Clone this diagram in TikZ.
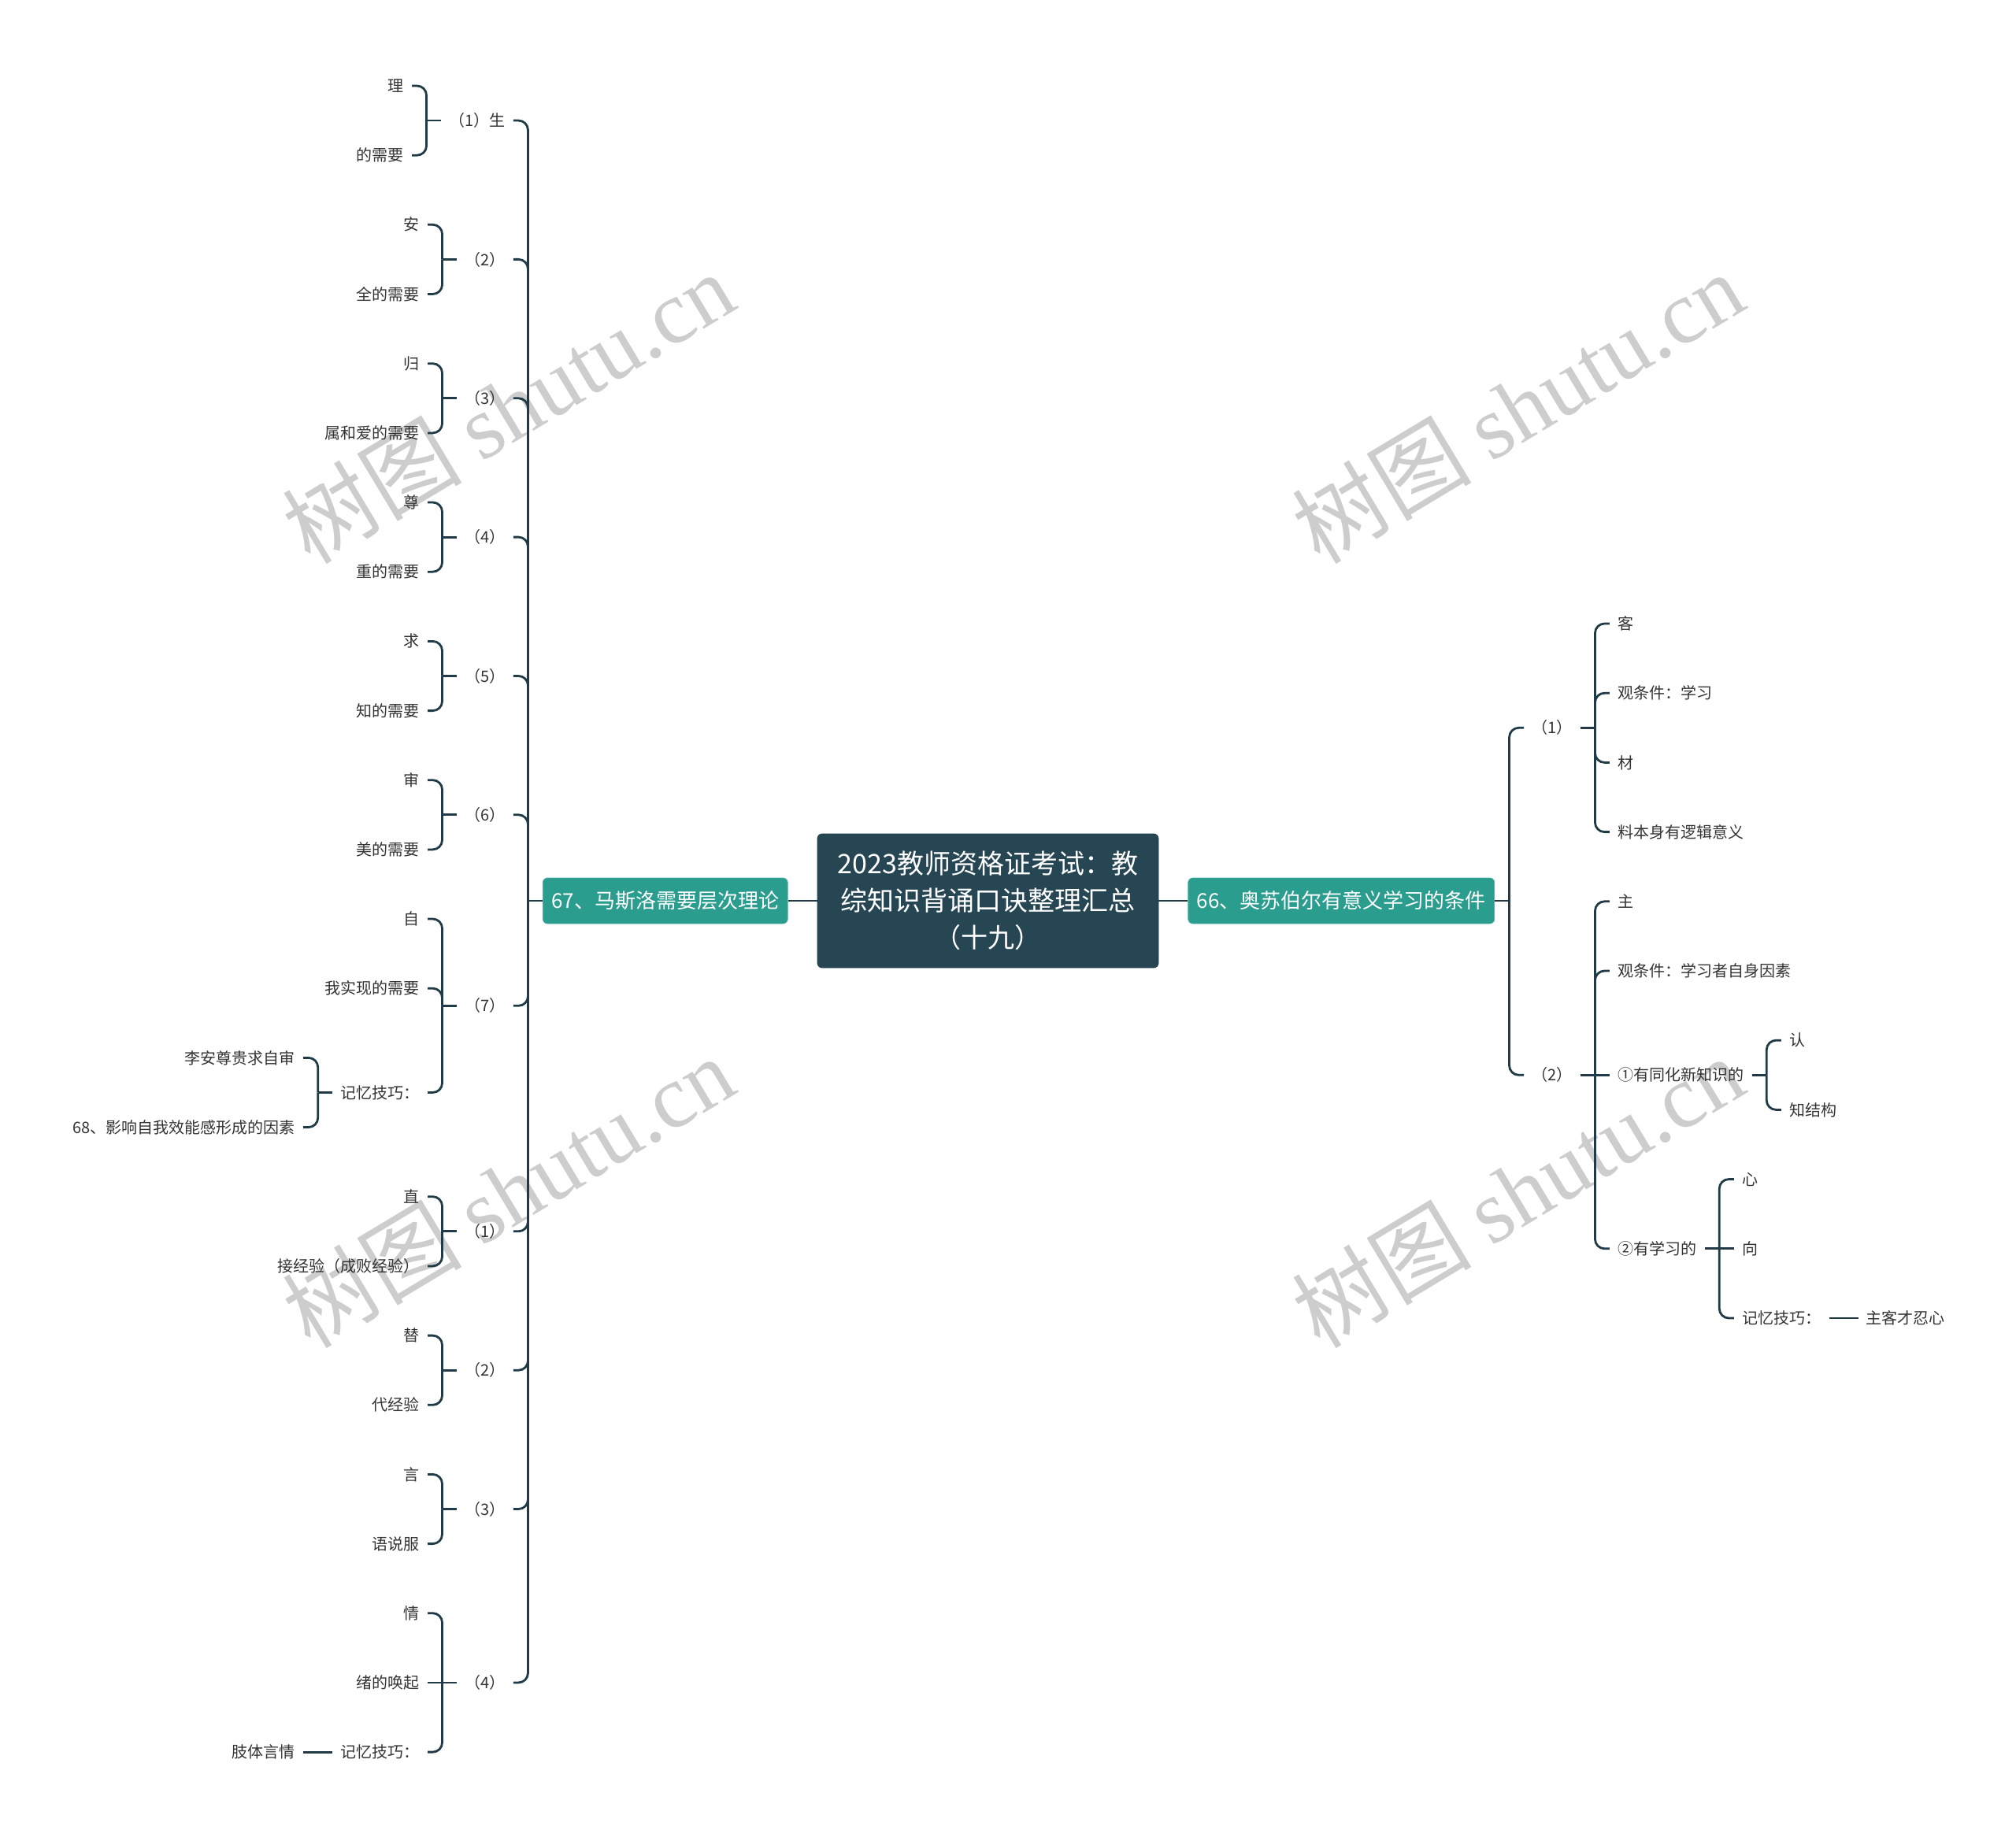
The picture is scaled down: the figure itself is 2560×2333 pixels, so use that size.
\documentclass[tikz,border=0pt]{standalone}
\usepackage{fontspec}
\newfontfamily\cjk{Noto Sans CJK SC}
\newfontfamily\wmserif{Liberation Serif}
\usepackage{tikz}
\usetikzlibrary{positioning,calc}
\definecolor{rootclr}{RGB}{38,70,83}
\definecolor{tealclr}{RGB}{42,157,143}
\definecolor{lineclr}{RGB}{32,58,70}
\definecolor{leafclr}{RGB}{51,51,51}
\definecolor{markclr}{RGB}{205,205,205}
\tikzset{
  topic/.style={rectangle,rounded corners=3pt,fill=rootclr,draw=rootclr!85!black,text=white,
                font=\cjk\fontsize{17}{23.5}\selectfont,align=center,
                minimum width=216.5pt,minimum height=85pt,inner sep=2pt},
  branch/.style={rectangle,rounded corners=3pt,fill=tealclr,draw=tealclr!85!white,text=white,
                 font=\cjk\fontsize{13}{15}\selectfont,minimum height=29pt,inner xsep=5.5pt},
  leaf/.style={font=\cjk\fontsize{10}{12}\selectfont,text=leafclr,inner xsep=5pt,inner ysep=1pt},
  link/.style={draw=lineclr,line width=1.4pt,rounded corners=6pt},
  wmark/.style={text=markclr,rotate=31,font=\cjk\fontsize{57}{64}\selectfont},
}

\begin{document}
\begin{tikzpicture}[x=0.5pt, y=-0.5pt]
\useasboundingbox (0,0) rectangle (2560,2333);

% watermarks
\foreach \wx/\wy in {645/517, 1927/517, 645/1513, 1927/1513}
  \node[wmark] at (\wx,\wy) {树图 {\wmserif shutu.cn}};

% centre and the two branches
\node[topic] (root) at (1254.5,1144) {2023教师资格证考试：教\\综知识背诵口诀整理汇总\\（十九）};
\node[branch, left=18.5pt of root] (maslow) {67、马斯洛需要层次理论};
\node[branch, right=18.5pt of root] (ausubel) {66、奥苏伯尔有意义学习的条件};
\draw[link] (maslow.east) -- (root.west);
\draw[link] (root.east) -- (ausubel.west);

% ---- left side
\coordinate (lbr) at ($(maslow.west)+(-18.5,0)$);
\draw[link] (maslow.west) -- (lbr);
\foreach \n/\y/\t in {a1/153.1/（1）生, a2/329.4/（2）, a3/505.8/（3）, a4/682.1/（4）,
                      a5/858.5/（5）, a6/1034.8/（6）, a7/1277.3/（7）, a8/1563.8/（1）,
                      a9/1740.2/（2）, a10/1916.5/（3）, a11/2136.9/（4）} {
  \node[leaf,anchor=east] (\n) at ($(lbr |- 0,\y)+(-18.5,0)$) {\t};
  \draw[link] (lbr) |- (\n.east);
}

% two-leaf groups
\foreach \n/\u/\d in {a1/理/的需要, a2/安/全的需要, a3/归/属和爱的需要, a4/尊/重的需要,
                      a5/求/知的需要, a6/审/美的需要, a8/直/接经验（成败经验）,
                      a9/替/代经验, a10/言/语说服} {
  \coordinate (\n-br) at ($(\n.west)+(-18.5,0)$);
  \node[leaf,anchor=east] (\n-u) at ($(\n-br)+(-18.5,-44.1)$) {\u};
  \node[leaf,anchor=east] (\n-d) at ($(\n-br)+(-18.5,44.1)$) {\d};
  \draw[link] (\n.west) -- (\n-br);
  \draw[link] (\n-br) |- (\n-u.east);
  \draw[link] (\n-br) |- (\n-d.east);
}

% (7)
\coordinate (a7-br) at ($(a7.west)+(-18.5,0)$);
\node[leaf,anchor=east] (a7-1) at ($(a7-br)+(-18.5,-110.3)$) {自};
\node[leaf,anchor=east] (a7-2) at ($(a7-br)+(-18.5,-22.1)$) {我实现的需要};
\node[leaf,anchor=east] (a7-3) at ($(a7-br)+(-18.5,110.2)$) {记忆技巧：};
\draw[link] (a7.west) -- (a7-br);
\draw[link] (a7-br) |- (a7-1.east);
\draw[link] (a7-br) |- (a7-2.east);
\draw[link] (a7-br) |- (a7-3.east);
\coordinate (a7-3br) at ($(a7-3.west)+(-18.5,0)$);
\node[leaf,anchor=east] (a7-3u) at ($(a7-3br)+(-18.5,-44.1)$) {李安尊贵求自审};
\node[leaf,anchor=east] (a7-3d) at ($(a7-3br)+(-18.5,44.1)$) {68、影响自我效能感形成的因素};
\draw[link] (a7-3.west) -- (a7-3br);
\draw[link] (a7-3br) |- (a7-3u.east);
\draw[link] (a7-3br) |- (a7-3d.east);

% second (4)
\coordinate (a11-br) at ($(a11.west)+(-18.5,0)$);
\node[leaf,anchor=east] (a11-1) at ($(a11-br)+(-18.5,-88.2)$) {情};
\node[leaf,anchor=east] (a11-2) at ($(a11-br)+(-18.5,0)$) {绪的唤起};
\node[leaf,anchor=east] (a11-3) at ($(a11-br)+(-18.5,88.2)$) {记忆技巧：};
\node[leaf,anchor=east] (a11-3c) at ($(a11-3.west)+(-37,0)$) {肢体言情};
\draw[link] (a11.west) -- (a11-2.east);
\draw[link] (a11-br) |- (a11-1.east);
\draw[link] (a11-br) |- (a11-3.east);
\draw[link] (a11-3.west) -- (a11-3c.east);

% ---- right side
\coordinate (rbr) at ($(ausubel.east)+(18.5,0)$);
\draw[link] (ausubel.east) -- (rbr);
\foreach \n/\y/\t in {b1/924.3/（1）, b2/1365.3/（2）} {
  \node[leaf,anchor=west] (\n) at ($(rbr |- 0,\y)+(18.5,0)$) {\t};
  \draw[link] (rbr) |- (\n.west);
}

% (1) objective condition
\coordinate (b1-br) at ($(b1.east)+(18.5,0)$);
\draw[link] (b1.east) -- (b1-br);
\foreach \k/\dy/\t in {1/-132.3/客, 2/-44.1/观条件：学习, 3/44.1/材, 4/132.3/料本身有逻辑意义} {
  \node[leaf,anchor=west] (b1-\k) at ($(b1-br)+(18.5,\dy)$) {\t};
  \draw[link] (b1-br) |- (b1-\k.west);
}

% (2) subjective condition
\coordinate (b2-br) at ($(b2.east)+(18.5,0)$);
\node[leaf,anchor=west] (b2-1) at ($(b2-br)+(18.5,-220.5)$) {主};
\node[leaf,anchor=west] (b2-2) at ($(b2-br)+(18.5,-132.3)$) {观条件：学习者自身因素};
\node[leaf,anchor=west] (b2-3) at ($(b2-br)+(18.5,0)$) {①有同化新知识的};
\node[leaf,anchor=west] (b2-4) at ($(b2-br)+(18.5,220.5)$) {②有学习的};
\draw[link] (b2.east) -- (b2-3.west);
\draw[link] (b2-br) |- (b2-1.west);
\draw[link] (b2-br) |- (b2-2.west);
\draw[link] (b2-br) |- (b2-4.west);

\coordinate (b2-3br) at ($(b2-3.east)+(18.5,0)$);
\node[leaf,anchor=west] (b2-3u) at ($(b2-3br)+(18.5,-44.1)$) {认};
\node[leaf,anchor=west] (b2-3d) at ($(b2-3br)+(18.5,44.1)$) {知结构};
\draw[link] (b2-3.east) -- (b2-3br);
\draw[link] (b2-3br) |- (b2-3u.west);
\draw[link] (b2-3br) |- (b2-3d.west);

\coordinate (b2-4br) at ($(b2-4.east)+(18.5,0)$);
\node[leaf,anchor=west] (b2-4a) at ($(b2-4br)+(18.5,-88.2)$) {心};
\node[leaf,anchor=west] (b2-4b) at ($(b2-4br)+(18.5,0)$) {向};
\node[leaf,anchor=west] (b2-4c) at ($(b2-4br)+(18.5,88.2)$) {记忆技巧：};
\node[leaf,anchor=west] (b2-4cc) at ($(b2-4c.east)+(37,0)$) {主客才忍心};
\draw[link] (b2-4.east) -- (b2-4b.west);
\draw[link] (b2-4br) |- (b2-4a.west);
\draw[link] (b2-4br) |- (b2-4c.west);
\draw[link] (b2-4c.east) -- (b2-4cc.west);
\end{tikzpicture}
\end{document}
